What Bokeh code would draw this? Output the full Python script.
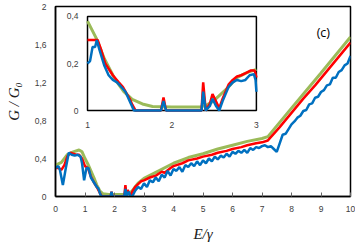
from bokeh.plotting import figure
from bokeh.models import Range1d, FixedTicker, Label
from bokeh.core.properties import value
from bokeh.embed import file_html
from bokeh.resources import INLINE

# ---------------- main plot data ----------------
green_x = [0, 0.2, 0.4, 0.6, 0.8, 0.9, 1.0, 1.1, 1.2, 1.3, 1.4, 1.5, 1.6, 1.8, 2.0, 2.2, 2.4,
           2.5, 2.6, 2.7, 2.8, 3.0, 3.5, 4.0, 4.5, 5.0, 5.5, 6.0, 6.5, 7.0, 7.2, 8.0, 9.0, 10.0]
green_y = [0.33, 0.36, 0.44, 0.47, 0.49, 0.47, 0.40, 0.34, 0.27, 0.20, 0.12, 0.06, 0.03, 0.02, 0.02, 0.02, 0.02,
           0.03, 0.06, 0.10, 0.14, 0.19, 0.27, 0.35, 0.41, 0.45, 0.50, 0.54, 0.58, 0.61, 0.63, 0.93, 1.30, 1.68]

red_x = [0, 0.1, 0.2, 0.3, 0.4, 0.5, 0.6, 0.7, 0.8, 0.9, 1.0, 1.1, 1.2, 1.3, 1.4, 1.5, 1.55, 1.6,
         1.87, 1.9, 1.93, 2.33, 2.37, 2.41, 2.45, 2.5, 2.55, 2.6, 2.7, 2.8, 2.9, 3.0,
         3.2, 3.4, 3.6, 3.7, 3.9, 4.0, 4.3, 4.5, 4.8, 5.0, 5.3, 5.5, 5.8, 6.0, 6.3, 6.5, 6.8, 7.0, 7.2,
         7.6, 8.0, 8.4, 8.8, 9.2, 9.6, 10.0]
red_y = [0.30, 0.30, 0.28, 0.33, 0.42, 0.46, 0.45, 0.44, 0.44, 0.40, 0.32, 0.30, 0.21, 0.15, 0.10, 0.04, 0.01, 0.0,
         0.0, 0.05, 0.0, 0.0, 0.12, 0.0, 0.07, 0.03, 0.01, 0.05, 0.10, 0.13, 0.16, 0.17,
         0.20, 0.22, 0.26, 0.25, 0.30, 0.32, 0.35, 0.38, 0.40, 0.42, 0.44, 0.46, 0.48, 0.50, 0.52, 0.54, 0.56, 0.57, 0.59,
         0.73, 0.88, 1.03, 1.17, 1.32, 1.47, 1.62]

blue_x = [0, 0.1, 0.15, 0.25, 0.35, 0.45, 0.55, 0.65, 0.75, 0.85, 0.9, 0.97, 1.05, 1.12, 1.2, 1.3,
          1.4, 1.45, 1.5, 1.55, 1.87, 1.9, 1.93, 2.33, 2.37, 2.41, 2.48, 2.55, 2.6,
          2.7, 2.8, 2.9, 3.0, 3.1, 3.2, 3.3, 3.4, 3.5, 3.6, 3.7, 3.8, 3.9, 4.0, 4.1, 4.2, 4.3, 4.4,
          4.5, 4.6, 4.7, 4.8, 4.9, 5.0, 5.1, 5.2, 5.3, 5.4, 5.5, 5.6, 5.7, 5.8, 5.9, 6.0, 6.1, 6.2,
          6.3, 6.4, 6.5, 6.6, 6.7, 6.8, 6.9, 7.0, 7.1, 7.2, 7.3, 7.4, 7.5, 7.6, 7.7, 7.8, 7.9, 8.0,
          8.1, 8.2, 8.3, 8.4, 8.5, 8.6, 8.7, 8.8, 8.9, 9.0, 9.1, 9.2, 9.3, 9.4, 9.5, 9.6, 9.7, 9.8,
          9.9, 10.0]
blue_y = [0.30, 0.32, 0.28, 0.12, 0.30, 0.46, 0.44, 0.43, 0.44, 0.42, 0.35, 0.17, 0.30, 0.30, 0.20, 0.15,
          0.10, 0.085, 0.04, 0.0, 0.0, 0.05, 0.0, 0.0, 0.08, 0.0, 0.05, 0.0, 0.0,
          0.06, 0.10, 0.08, 0.14, 0.10, 0.17, 0.15, 0.20, 0.16, 0.23, 0.20, 0.27, 0.22, 0.29, 0.27, 0.31, 0.26, 0.33,
          0.31, 0.35, 0.32, 0.37, 0.33, 0.38, 0.35, 0.40, 0.37, 0.42, 0.39, 0.43, 0.41, 0.45, 0.42, 0.47, 0.45, 0.48,
          0.46, 0.49, 0.46, 0.51, 0.49, 0.52, 0.51, 0.53, 0.54, 0.52, 0.53, 0.50, 0.47, 0.56, 0.65, 0.66, 0.71, 0.76,
          0.79, 0.83, 0.85, 0.90, 0.91, 0.97, 0.98, 1.04, 1.05, 1.10, 1.12, 1.17, 1.18, 1.25, 1.25, 1.31, 1.33, 1.38,
          1.40, 1.48]

x_ticks = [0, 1, 2, 3, 4, 5, 6, 7, 8, 9, 10]
y_ticks = [0, 0.4, 0.8, 1.2, 1.6, 2.0]
y_tick_labels = ["0", "0,4", "0,8", "1,2", "1,6", "2"]

# ---------------- inset data ----------------
ins_green_x = [1.0, 1.1, 1.2, 1.33, 1.43, 1.53, 1.65, 1.77, 2.0, 2.34, 2.42, 2.49, 2.58, 2.67, 2.77, 2.88, 3.0]
ins_green_y = [0.38, 0.31, 0.22, 0.13, 0.08, 0.047, 0.028, 0.017, 0.015, 0.015, 0.025, 0.04, 0.07, 0.10, 0.14, 0.16, 0.175]

ins_red_x = [1.0, 1.05, 1.12, 1.16, 1.21, 1.3, 1.37, 1.42, 1.45, 1.5, 1.53, 1.57, 1.87, 1.9, 1.93, 2.35, 2.37,
             2.4, 2.45, 2.48, 2.52, 2.56, 2.6, 2.67, 2.72, 2.77, 2.82, 2.88, 2.93, 2.98, 3.0]
ins_red_y = [0.30, 0.30, 0.30, 0.26, 0.20, 0.15, 0.12, 0.10, 0.08, 0.05, 0.025, 0.0, 0.0, 0.055, 0.0, 0.0, 0.12,
             0.0, 0.03, 0.07, 0.04, 0.01, 0.05, 0.11, 0.13, 0.145, 0.15, 0.16, 0.17, 0.17, 0.14]

ins_blue_x = [1.0, 1.03, 1.06, 1.09, 1.11, 1.14, 1.2, 1.25, 1.3, 1.35, 1.4, 1.45, 1.5, 1.55, 1.87, 1.9, 1.93,
              2.35, 2.37, 2.4, 2.45, 2.48, 2.52, 2.56, 2.6, 2.67, 2.72, 2.77, 2.82, 2.87, 2.92, 2.97, 2.99, 3.0]
ins_blue_y = [0.20, 0.21, 0.27, 0.27, 0.30, 0.26, 0.19, 0.15, 0.13, 0.12, 0.10, 0.08, 0.04, 0.0, 0.0, 0.04, 0.0,
              0.0, 0.08, 0.0, 0.02, 0.05, 0.02, 0.0, 0.04, 0.10, 0.12, 0.13, 0.125, 0.13, 0.15, 0.155, 0.13, 0.08]

ins_x_ticks = [1, 2, 3]
ins_x_tick_labels = ["1", "2", "3"]
ins_y_ticks = [0, 0.2, 0.4]
ins_y_tick_labels = ["0", "0,2", "0,4"]

GREEN = "#9BBB59"
RED = "#FF0000"
BLUE = "#0070C0"
TICK_FONT = "Liberation Sans"
TICK_COLOR = "#404040"

p = figure(width=355, height=246, output_backend="svg", toolbar_location=None,
           x_range=Range1d(0, 10), y_range=Range1d(0, 2),
           min_border_left=55, min_border_right=5, min_border_top=6, min_border_bottom=50)
p.grid.visible = False
p.outline_line_color = "black"
p.outline_line_width = 1.5
p.background_fill_color = "white"
p.border_fill_color = "white"

p.xaxis.ticker = FixedTicker(ticks=x_ticks)
p.yaxis.ticker = FixedTicker(ticks=y_ticks)
p.yaxis.major_label_overrides = {t: l for t, l in zip(y_ticks, y_tick_labels)}
p.xaxis.minor_tick_line_color = None
p.yaxis.minor_tick_line_color = None
p.xaxis.major_tick_in = 4
p.xaxis.major_tick_out = 0
p.yaxis.major_tick_in = 0
p.yaxis.major_tick_out = 0
for ax in (p.xaxis, p.yaxis):
    ax.axis_line_color = "black"
    ax.axis_line_width = 1.5
    ax.major_tick_line_color = "#666666"
    ax.major_label_text_font = TICK_FONT
    ax.major_label_text_font_size = "8.5px"
    ax.major_label_text_color = TICK_COLOR
    ax.axis_label_text_font = "Liberation Serif"
    ax.axis_label_text_font_style = "italic"
    ax.axis_label_text_font_size = "15px"
    ax.axis_label_text_color = "#202020"
p.xaxis.major_label_standoff = 9
p.yaxis.major_label_standoff = 9
p.xaxis.axis_label = "E/\u03b3"
p.yaxis.axis_label = "G / G\u2080"
p.xaxis.axis_label_standoff = 11
p.yaxis.axis_label_standoff = 10

p.line(green_x, green_y, line_color=GREEN, line_width=3)
p.line(red_x, red_y, line_color=RED, line_width=2.5)
p.line(blue_x, blue_y, line_color=BLUE, line_width=2.5)

p.add_layout(Label(x=9.08, y=1.726, text="(c)", text_font="Open Sans", text_font_size="12.5px",
                   text_color="black", text_align="center", text_baseline="middle"))

# ---------------- inset via subplot ----------------
ins_xr = Range1d(1, 3)
ins_yr = Range1d(0, 0.4)
sub = p.subplot(x_source=ins_xr, y_source=ins_yr,
                x_target=Range1d(1.085, 6.81), y_target=Range1d(0.905, 1.895))
sub.quad(left=[ins_xr.start], right=[ins_xr.end], bottom=[ins_yr.start], top=[ins_yr.end],
         fill_color="white", line_color="black", line_width=1.5)
sub.line(ins_green_x, ins_green_y, line_color=GREEN, line_width=3)
sub.line(ins_red_x, ins_red_y, line_color=RED, line_width=2.5)
sub.line(ins_blue_x, ins_blue_y, line_color=BLUE, line_width=2.5)

sub.text(x=ins_x_ticks, y=[ins_yr.start] * len(ins_x_ticks), text=ins_x_tick_labels,
         x_offset=0, y_offset=14, text_align="center", text_baseline="middle",
         text_font=value(TICK_FONT), text_font_size="8.5px", text_color=TICK_COLOR)
sub.text(x=[ins_xr.start] * len(ins_y_ticks), y=ins_y_ticks, text=ins_y_tick_labels,
         x_offset=-9, y_offset=0, text_align="right", text_baseline="middle",
         text_font=value(TICK_FONT), text_font_size="8.5px", text_color=TICK_COLOR)

open("out.html", "w").write(file_html(p, INLINE))
